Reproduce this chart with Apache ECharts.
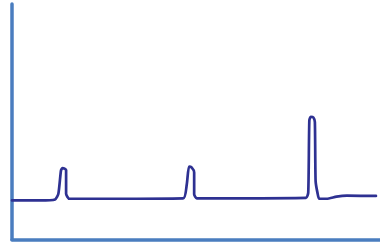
<!DOCTYPE html>
<html>
<head>
<meta charset="utf-8">
<script src="https://cdn.jsdelivr.net/npm/echarts@6/dist/echarts.min.js"></script>
<style>
  html, body { margin: 0; padding: 0; background: #fff; }
  #chart { width: 380px; height: 246px; }
</style>
</head>
<body>
<div id="chart"></div>
<script>
// signal trace (x: 0-100, y: 0-100)
var xValues = [0, 7.6, 11.7, 12.6, 13.3, 13.7, 14.3, 14.7, 14.7, 15.6,
               46.5, 47.5, 48.1, 48.8, 49.5, 49.5, 50.2,
               79.9, 80.5, 80.8, 81.2, 81.9, 82.3, 82.5, 83.0, 83.5,
               85.5, 88.2, 91.0, 98.9];
var yValues = [16.6, 16.6, 17.0, 19.4, 29.2, 30.3, 30.1, 29.5, 19.4, 17.3,
               17.5, 23.5, 31.0, 30.6, 28.5, 19.2, 17.5,
               17.7, 19.9, 50.6, 52.1, 51.8, 49.9, 24.9, 19.9, 17.3,
               17.3, 18.2, 18.6, 18.5];

var axisColor = '#4a7dbf';
var lineColor = '#2e3192';

var points = xValues.map(function(x, i) { return [x, yValues[i]]; });

var chart = echarts.init(document.getElementById('chart'));
chart.setOption({
    animation: false,
    grid: { left: 12, right: 0, top: 4, bottom: 6.5 },
    xAxis: {
        type: 'value',
        min: 0,
        max: 100,
        axisLine: { show: true, onZero: false, lineStyle: { color: axisColor, width: 3.5 } },
        axisTick: { show: false },
        axisLabel: { show: false },
        splitLine: { show: false }
    },
    yAxis: {
        type: 'value',
        min: 0,
        max: 100,
        axisLine: { show: true, onZero: false, lineStyle: { color: axisColor, width: 3.5 } },
        axisTick: { show: false },
        axisLabel: { show: false },
        splitLine: { show: false }
    },
    series: [{
        type: 'line',
        data: points,
        smooth: 0.2,
        symbol: 'none',
        lineStyle: { color: lineColor, width: 2.7, join: 'round', cap: 'round' }
    }]
});
</script>
</body>
</html>
